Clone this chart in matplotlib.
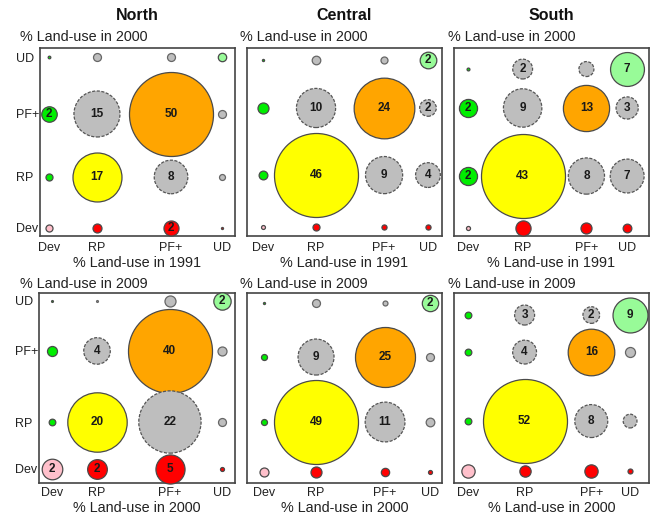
import matplotlib
matplotlib.use("Agg")
import matplotlib.pyplot as plt
import numpy as np

plt.rcParams['font.family'] = ['Liberation Sans', 'DejaVu Sans']

# ---------------- data ----------------
categories = ['Dev', 'RP', 'PF+', 'UD']
regions = ['North', 'Central', 'South']
period_labels_top = ('% Land-use in 1991', '% Land-use in 2000')
period_labels_bottom = ('% Land-use in 2000', '% Land-use in 2009')

# rows: later year class (Dev, RP, PF+, UD); cols: earlier year class (Dev, RP, PF+, UD)
north_1991_2000 = [
    [0.35, 0.57, 1.6, 0.03],
    [0.35, 17, 8, 0.25],
    [1.7, 15, 50, 0.45],
    [0.05, 0.45, 0.45, 0.5],
]
central_1991_2000 = [
    [0.1, 0.32, 0.17, 0.17],
    [0.5, 46, 9, 4],
    [0.79, 10, 24, 1.8],
    [0.03, 0.48, 0.32, 1.8],
]
south_1991_2000 = [
    [0.1, 1.4, 0.74, 0.46],
    [2.0, 43, 8, 7],
    [2.0, 9, 13, 3],
    [0.05, 2.4, 1.37, 7],
]
north_2000_2009 = [
    [2.4, 2.2, 4.8, 0.09],
    [0.25, 20, 22, 0.36],
    [0.57, 4, 40, 0.46],
    [0.02, 0.02, 0.69, 1.7],
]
central_2000_2009 = [
    [0.56, 0.84, 0.48, 0.11],
    [0.25, 49, 11, 0.52],
    [0.25, 9, 25, 0.44],
    [0.03, 0.44, 0.17, 1.86],
]
south_2000_2009 = [
    [1.3, 0.94, 1.3, 0.18],
    [0.33, 52, 8, 1.4],
    [0.33, 4.2, 16, 0.74],
    [0.33, 2.95, 2.05, 9],
]

# ---------------- layout ----------------
W, H, DPI = 651, 515, 100
MAX_R_PX = 42.0

frames_px = {  # left, top, right, bottom in pixels
    (0, 0): (40, 48, 235, 236), (0, 1): (247, 48, 442, 236), (0, 2): (454, 48, 649, 236),
    (1, 0): (39, 293, 235, 483), (1, 1): (247, 293, 442, 483), (1, 2): (454, 293, 649, 483),
}
col_frac = {
    (0, 0): [0.045, 0.292, 0.672, 0.933], (0, 1): [0.082, 0.354, 0.703, 0.928],
    (0, 2): [0.071, 0.352, 0.679, 0.888], (1, 0): [0.066, 0.296, 0.668, 0.934],
    (1, 1): [0.087, 0.354, 0.708, 0.938], (1, 2): [0.071, 0.362, 0.704, 0.903],
}
row_frac = {
    (0, 0): [0.043, 0.314, 0.649, 0.952], (0, 1): [0.048, 0.324, 0.681, 0.936],
    (0, 2): [0.043, 0.319, 0.681, 0.888], (1, 0): [0.074, 0.321, 0.695, 0.958],
    (1, 1): [0.058, 0.321, 0.663, 0.947], (1, 2): [0.063, 0.326, 0.689, 0.884],
}
ylab_x_px = [20, 240, 448]

data = {
    (0, 0): north_1991_2000, (0, 1): central_1991_2000, (0, 2): south_1991_2000,
    (1, 0): north_2000_2009, (1, 1): central_2000_2009, (1, 2): south_2000_2009,
}

GRAY = '#BEBEBE'


def cell_style(r, c):
    if r == 0 and c == 0:
        return '#FFC0CB', False
    if r == 0:
        return '#FF0000', False
    if c == 0:
        return '#00EE00', False
    if r == c == 1:
        return '#FFFF00', False
    if r == c == 2:
        return '#FFA500', False
    if r == c == 3:
        return '#98FB98', False
    return GRAY, True


fig = plt.figure(figsize=(W / DPI, H / DPI), dpi=DPI)

for (i, j), mat in data.items():
    l, t, r_, b = frames_px[(i, j)]
    ax = fig.add_axes([l / W, 1 - b / H, (r_ - l) / W, (b - t) / H])
    ax.set_xlim(0, 1)
    ax.set_ylim(0, 1)
    vals = np.array(mat, dtype=float)
    vmax = vals.max()
    xs = col_frac[(i, j)]
    ys = row_frac[(i, j)]
    order = sorted([(vals[rr, cc], rr, cc) for rr in range(4) for cc in range(4)], reverse=True)
    for v, rr, cc in order:
        rpx = MAX_R_PX * np.sqrt(v / vmax)
        d_pt = 2 * rpx * 72 / DPI
        fc, dashed = cell_style(rr, cc)
        if dashed and rpx > 6:
            ls = (0, (2.5, 1.2))
            ec = '#555555'
        else:
            ls = 'solid'
            ec = '#4a4a4a' if not dashed else '#666666'
        ax.scatter([xs[cc]], [ys[rr]], s=d_pt ** 2, c=fc, edgecolors=ec,
                   linewidths=0.9, linestyle=ls, clip_on=False, zorder=2)
        if v >= 1.5:
            ax.text(xs[cc], ys[rr], str(int(round(v))), ha='center', va='center',
                    fontsize=8.5, fontweight='bold', color='#1a1a1a', zorder=3)
    for sp in ax.spines.values():
        sp.set_color('#444444')
        sp.set_linewidth(1.2)
        sp.set_zorder(1)
    ax.set_xticks(xs)
    ax.set_xticklabels(categories, fontsize=9, color='#222222')
    ax.tick_params(axis='x', length=0, pad=4.5 if i == 0 else 3.0)
    if j == 0:
        ax.set_yticks(ys)
        ax.set_yticklabels(categories, fontsize=9, color='#222222')
        ax.tick_params(axis='y', length=0, pad=17)
        for lab in ax.get_yticklabels():
            lab.set_ha('left')
    else:
        ax.set_yticks([])
    xcenter = (l + r_) / 2 / W
    xl, yl = (period_labels_top if i == 0 else period_labels_bottom)
    fig.text(xcenter, 1 - (263 if i == 0 else 508) / H, xl, ha='center', va='center',
             fontsize=10.4, color='#222222')
    fig.text(ylab_x_px[j] / W, 1 - (37 if i == 0 else 284) / H, yl, ha='left', va='center',
             fontsize=10.4, color='#222222')
    if i == 0:
        fig.text(xcenter, 1 - 15 / H, regions[j], ha='center', va='center',
                 fontsize=11.5, fontweight='bold', color='#111111')

fig.savefig('out.png', dpi=DPI)
